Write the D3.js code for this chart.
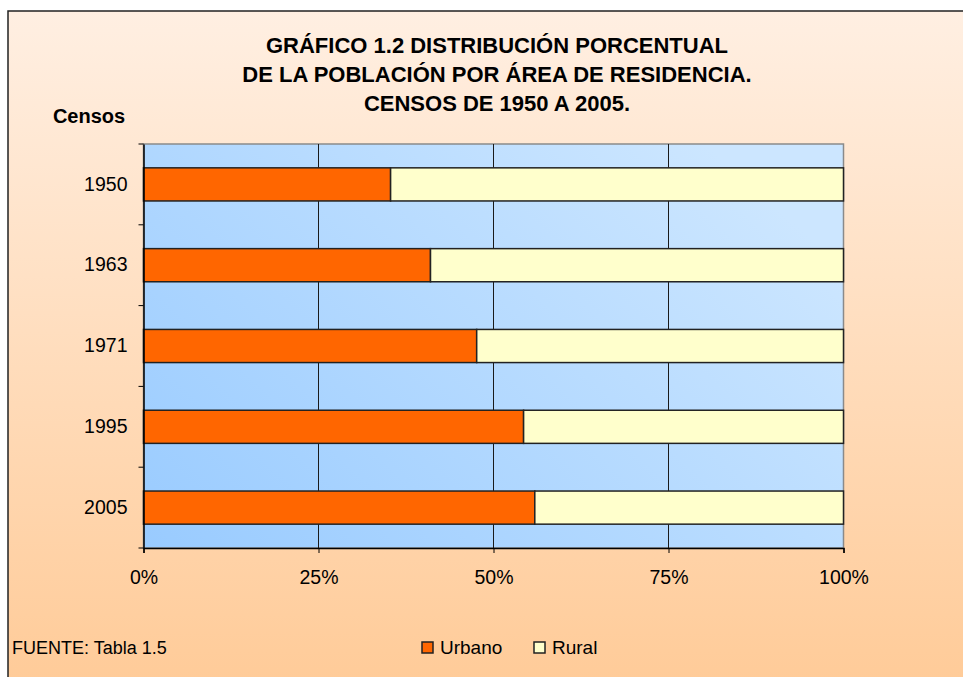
<!DOCTYPE html>
<html>
<head>
<meta charset="utf-8">
<script src="https://cdn.jsdelivr.net/npm/d3@7"></script>
<style>
	body { margin: 0; background: #fff; }
	text { font-family: Arial, "Liberation Sans", sans-serif; }
</style>
</head>
<body>
<div id="chart"></div>
<script>
// datos
const censos = ["1950", "1963", "1971", "1995", "2005"];
const urbano = [35.3, 41.0, 47.6, 54.3, 55.9];
const rural = [64.7, 59.0, 52.4, 45.7, 44.1];
const series = ["Urbano", "Rural"];
const colores = ["#FF6600", "#FFFFCC"];
const xTicks = [0, 25, 50, 75, 100];
const titulo = [
	"GRÁFICO 1.2 DISTRIBUCIÓN PORCENTUAL",
	"DE LA POBLACIÓN POR ÁREA DE RESIDENCIA.",
	"CENSOS DE 1950 A 2005."
];

const W = 963, H = 677;
const plot = { left: 143.5, top: 144, right: 843.5, bottom: 548 };

const svg = d3.select("#chart")
	.append("svg")
	.attr("width", W)
	.attr("height", H);

const defs = svg.append("defs");

const bgGrad = defs.append("linearGradient")
	.attr("id", "bg")
	.attr("x1", 0).attr("y1", 0).attr("x2", 0).attr("y2", 1);
bgGrad.append("stop").attr("offset", 0).attr("stop-color", "#FFEFE2");
bgGrad.append("stop").attr("offset", 1).attr("stop-color", "#FFCB98");

const plotGrad = defs.append("linearGradient")
	.attr("id", "plotbg")
	.attr("gradientUnits", "userSpaceOnUse")
	.attr("x1", plot.left).attr("y1", plot.bottom)
	.attr("x2", plot.left + 450).attr("y2", plot.top - 100);
plotGrad.append("stop").attr("offset", 0).attr("stop-color", "#99CBFF");
plotGrad.append("stop").attr("offset", 1).attr("stop-color", "#CCE6FF");

// fondo del gráfico
svg.append("rect")
	.attr("x", 8).attr("y", 11)
	.attr("width", W).attr("height", H)
	.attr("fill", "url(#bg)")
	.attr("stroke", "#222")
	.attr("stroke-width", 1.5);

// títulos
svg.append("g").selectAll("text")
	.data(titulo)
	.enter().append("text")
	.attr("x", 497)
	.attr("y", (d, i) => 53 + i * 29)
	.attr("text-anchor", "middle")
	.attr("font-size", 22)
	.attr("font-weight", "bold")
	.text(d => d);

svg.append("text")
	.attr("x", 89)
	.attr("y", 123)
	.attr("text-anchor", "middle")
	.attr("font-size", 20)
	.attr("font-weight", "bold")
	.text("Censos");

const x = d3.scaleLinear()
	.domain([0, 100])
	.range([plot.left, plot.right]);

const y = d3.scaleBand()
	.domain(censos)
	.range([plot.top, plot.bottom])
	.paddingInner(0.59)
	.paddingOuter(0.295);

// área de trazado
svg.append("rect")
	.attr("x", plot.left).attr("y", plot.top)
	.attr("width", plot.right - plot.left)
	.attr("height", plot.bottom - plot.top)
	.attr("fill", "url(#plotbg)")
	.attr("stroke", "#8a8a8a")
	.attr("stroke-width", 1.5);

// líneas de cuadrícula
svg.append("g").selectAll("line")
	.data(xTicks.slice(1, -1))
	.enter().append("line")
	.attr("x1", d => x(d)).attr("x2", d => x(d))
	.attr("y1", plot.top).attr("y2", plot.bottom)
	.attr("stroke", "#1a1a1a")
	.attr("stroke-width", 1);

// barras apiladas
const filas = censos.map((c, i) => ({ censo: c, Urbano: urbano[i], Rural: rural[i] }));
const stack = d3.stack().keys(series)(filas);

svg.append("g").selectAll("g")
	.data(stack)
	.enter().append("g")
	.attr("fill", (d, i) => colores[i])
	.selectAll("rect")
	.data(d => d)
	.enter().append("rect")
	.attr("x", d => x(d[0]))
	.attr("y", d => y(d.data.censo))
	.attr("width", d => x(d[1]) - x(d[0]))
	.attr("height", y.bandwidth())
	.attr("stroke", "#222")
	.attr("stroke-width", 1.5);

// ejes
const xAxis = d3.axisBottom(x)
	.tickValues(xTicks)
	.tickFormat(d => d + "%")
	.tickSize(5)
	.tickPadding(17);

svg.append("g")
	.attr("transform", "translate(0," + plot.bottom + ")")
	.call(xAxis)
	.call(g => g.select(".domain").attr("stroke", "#000").attr("stroke-width", 1.5))
	.call(g => g.selectAll("text").attr("font-size", 19.5).attr("fill", "#000"));

const yAxis = d3.axisLeft(y)
	.tickSize(0)
	.tickPadding(16);

svg.append("g")
	.attr("transform", "translate(" + plot.left + ",0)")
	.call(yAxis)
	.call(g => g.select(".domain").attr("stroke", "#000").attr("stroke-width", 1.5))
	.call(g => g.selectAll("text").attr("font-size", 19.5).attr("fill", "#000"));

// marcas entre categorías
const step = y.step();
svg.append("g").selectAll("line")
	.data(d3.range(censos.length + 1))
	.enter().append("line")
	.attr("x1", plot.left - 5).attr("x2", plot.left)
	.attr("y1", i => plot.top + i * step)
	.attr("y2", i => plot.top + i * step)
	.attr("stroke", "#000");

// fuente
svg.append("text")
	.attr("x", 12)
	.attr("y", 654)
	.attr("font-size", 18)
	.text("FUENTE: Tabla 1.5");

// leyenda
const leyenda = svg.append("g")
	.selectAll("g")
	.data(series)
	.enter().append("g")
	.attr("transform", (d, i) => "translate(" + [422, 534][i] + ",642)");

leyenda.append("rect")
	.attr("width", 11).attr("height", 11)
	.attr("fill", (d, i) => colores[i])
	.attr("stroke", "#222")
	.attr("stroke-width", 1.5);

leyenda.append("text")
	.attr("x", 18)
	.attr("y", 12)
	.attr("font-size", 19)
	.text(d => d);
</script>
</body>
</html>
